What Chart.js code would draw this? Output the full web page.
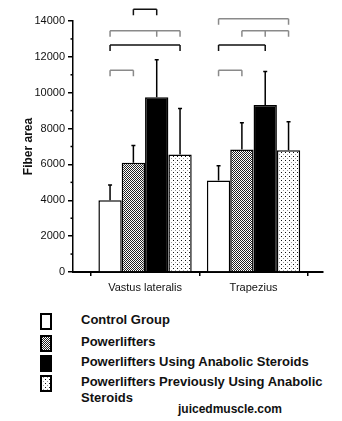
<!DOCTYPE html>
<html>
<head>
<meta charset="utf-8">
<script src="https://cdn.jsdelivr.net/npm/chart.js@4/dist/chart.umd.min.js"></script>
<style>
  body { margin: 0; background: #fff; width: 342px; height: 421px; position: relative; overflow: hidden; }
  #wrap { position: absolute; left: 0; top: 0; width: 342px; height: 300px; }
  .item { position: absolute; left: 40px; font: bold 13px 'Liberation Sans', Arial, sans-serif; color: #111; line-height: 16px; }
  .item canvas { position: absolute; left: 0; top: 0; }
  .item span { position: absolute; left: 41px; top: 0; white-space: nowrap; }
  #site { position: absolute; left: 178px; top: 402px; font: bold 12px 'Liberation Sans', Arial, sans-serif; color: #111; line-height: 14px; }
</style>
</head>
<body>
<div id="wrap"><canvas id="myChart" width="342" height="300"></canvas></div>
<div id="legend"></div>
<div id="site">juicedmuscle.com</div>
<script>
const categories = ['Vastus lateralis', 'Trapezius'];
const seriesNames = ['Control Group', 'Powerlifters', 'Powerlifters Using Anabolic Steroids', 'Powerlifters Previously Using Anabolic Steroids'];

// mean fiber area per group
const control = [4000, 5100];
const powerlifters = [6100, 6830];
const onSteroids = [9750, 9320];
const prevSteroids = [6550, 6790];

// standard deviations (drawn upward only)
const controlSd = [850, 820];
const powerliftersSd = [960, 1500];
const onSteroidsSd = [2090, 1870];
const prevSteroidsSd = [2570, 1590];

const yTicks = [0, 2000, 4000, 6000, 8000, 10000, 12000, 14000];

// significance brackets: [category, series joined, level, colour]
const brackets = [
  [0, [1, 2], 14650, '#111'],
  [0, [0, 2, 3], 13460, '#8a8a8a'],
  [0, [0, 3], 12660, '#111'],
  [0, [0, 1], 11250, '#8a8a8a'],
  [1, [0, 3], 14130, '#8a8a8a'],
  [1, [1, 2, 3], 13460, '#8a8a8a'],
  [1, [0, 2], 12660, '#111'],
  [1, [0, 1], 11250, '#8a8a8a'],
];

function makePattern(kind) {
  const c = document.createElement('canvas');
  const g = c.getContext('2d');
  if (kind === 'checker') {
    c.width = 2; c.height = 2;
    g.fillStyle = '#fff'; g.fillRect(0, 0, 2, 2);
    g.fillStyle = '#222';
    g.fillRect(0, 0, 1, 1); g.fillRect(1, 1, 1, 1);
  } else if (kind === 'dots') {
    c.width = 4; c.height = 4;
    g.fillStyle = '#fff'; g.fillRect(0, 0, 4, 4);
    g.fillStyle = '#111'; g.fillRect(1, 0, 1, 1);
    g.fillStyle = '#999'; g.fillRect(3, 2, 1, 1);
  }
  return g.createPattern(c, 'repeat');
}

const fills = ['#ffffff', makePattern('checker'), '#000000', makePattern('dots')];
const means = [control, powerlifters, onSteroids, prevSteroids];
const sds = [controlSd, powerliftersSd, onSteroidsSd, prevSteroidsSd];

const data = {
  datasets: seriesNames.map((name, s) => ({
    label: name,
    data: categories.map((c, i) => ({ x: i, y: means[s][i] })),
    sd: sds[s],
    backgroundColor: fills[s],
    borderColor: '#000',
    borderWidth: 1.5,
    categoryPercentage: 0.86,
    barPercentage: 1.0,
  }))
};

const errorBars = {
  id: 'errorBars',
  afterDatasetsDraw(chart) {
    const ctx = chart.ctx;
    const y = chart.scales.y;
    ctx.save();
    ctx.strokeStyle = '#000';
    ctx.lineWidth = 1.5;
    chart.data.datasets.forEach((ds, di) => {
      chart.getDatasetMeta(di).data.forEach((bar, i) => {
        const top = y.getPixelForValue(ds.data[i].y + ds.sd[i]);
        ctx.beginPath();
        ctx.moveTo(bar.x, bar.y);
        ctx.lineTo(bar.x, top);
        ctx.moveTo(bar.x - 2, top);
        ctx.lineTo(bar.x + 2, top);
        ctx.stroke();
      });
    });
    ctx.restore();
  }
};

const bracketLines = {
  id: 'bracketLines',
  afterDatasetsDraw(chart) {
    const ctx = chart.ctx;
    const y = chart.scales.y;
    ctx.save();
    ctx.lineWidth = 1.5;
    brackets.forEach(([cat, series, level, color]) => {
      const xs = series.map(s => chart.getDatasetMeta(s).data[cat].x);
      const yy = y.getPixelForValue(level);
      ctx.strokeStyle = color;
      ctx.beginPath();
      ctx.moveTo(Math.min(...xs), yy);
      ctx.lineTo(Math.max(...xs), yy);
      xs.forEach(x => { ctx.moveTo(x, yy); ctx.lineTo(x, yy + 6); });
      ctx.stroke();
    });
    ctx.restore();
  }
};

// short minor ticks between the labelled ones
const minorTicks = {
  id: 'minorTicks',
  afterDraw(chart) {
    const ctx = chart.ctx;
    const y = chart.scales.y;
    const left = chart.chartArea.left;
    ctx.save();
    ctx.strokeStyle = '#000';
    ctx.lineWidth = 1.5;
    for (let i = 1; i < yTicks.length; i++) {
      const py = y.getPixelForValue((yTicks[i] + yTicks[i - 1]) / 2);
      ctx.beginPath();
      ctx.moveTo(left - 2.5, py);
      ctx.lineTo(left, py);
      ctx.stroke();
    }
    ctx.restore();
  }
};

Chart.defaults.font.family = "'Liberation Sans', Arial, sans-serif";
Chart.defaults.color = '#111';

const ctx = document.getElementById('myChart').getContext('2d');
const myChart = new Chart(ctx, {
  type: 'bar',
  data: data,
  plugins: [errorBars, bracketLines, minorTicks],
  options: {
    responsive: false,
    animation: false,
    layout: { padding: { left: 0, right: 19, top: 21, bottom: 0 } },
    plugins: {
      legend: { display: false },
      tooltip: { enabled: false },
    },
    scales: {
      x: {
        type: 'linear',
        offset: false,
        min: -0.664,
        max: 1.64,
        afterBuildTicks(scale) {
          scale.ticks = categories.map((c, i) => ({ value: i }));
        },
        afterFit(scale) { scale.height = 28; },
        ticks: {
          stepSize: 1,
          autoSkip: false,
          maxRotation: 0,
          padding: 5,
          font: { size: 11 },
          callback: (v) => categories[v] ?? '',
        },
        grid: { drawOnChartArea: false, tickLength: 4, color: '#000', lineWidth: 1.5 },
        border: { color: '#000', width: 2 },
      },
      y: {
        min: 0,
        max: 14000,
        afterBuildTicks(scale) {
          scale.ticks = yTicks.map(v => ({ value: v }));
        },
        afterFit(scale) { scale.width = 73; },
        ticks: {
          padding: 3,
          font: { size: 11 },
          callback: (v) => String(v),
        },
        grid: { drawOnChartArea: false, tickLength: 5, color: '#000', lineWidth: 1.5 },
        border: { color: '#000', width: 1.5 },
        title: {
          display: true,
          text: 'Fiber area',
          font: { size: 12, weight: 'bold' },
          padding: { top: 21, bottom: 0 },
        },
      },
    },
  },
});

// legend under the chart
const legendTops = [313, 335, 355, 375];
const legend = document.getElementById('legend');
seriesNames.forEach((name, s) => {
  const item = document.createElement('div');
  item.className = 'item';
  item.style.top = legendTops[s] + 'px';
  const sw = document.createElement('canvas');
  sw.width = 12; sw.height = 17;
  const g = sw.getContext('2d');
  g.fillStyle = fills[s];
  g.fillRect(0, 0, 12, 17);
  g.strokeStyle = '#000';
  g.lineWidth = 2;
  g.strokeRect(1, 1, 10, 15);
  item.appendChild(sw);
  const label = document.createElement('span');
  label.style.top = '-1px';
  if (s === 3) {
    label.innerHTML = 'Powerlifters Previously Using Anabolic<br>Steroids';
  } else {
    label.textContent = name;
  }
  item.appendChild(label);
  legend.appendChild(item);
});
</script>
</body>
</html>
